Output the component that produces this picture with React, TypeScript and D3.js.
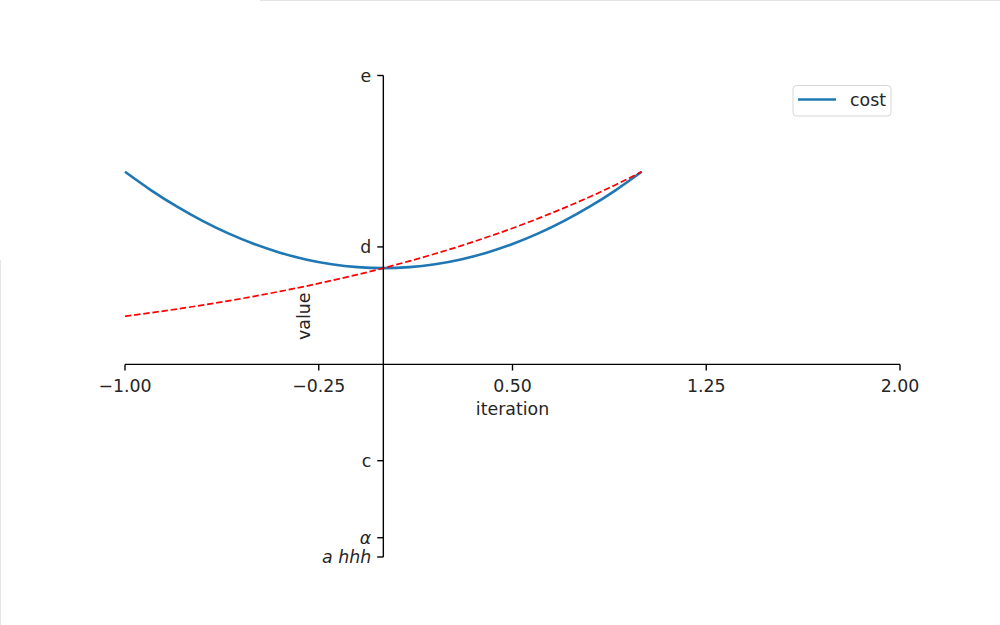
import React from "react";
import * as d3 from "d3";

const xs = [-1, -0.9, -0.8, -0.7, -0.6, -0.5, -0.4, -0.3, -0.2, -0.1, 0, 0.1, 0.2, 0.3, 0.4, 0.5, 0.6, 0.7, 0.8, 0.9, 1];
const costValues = [2.0, 1.81, 1.64, 1.49, 1.36, 1.25, 1.16, 1.09, 1.04, 1.01, 1.0, 1.01, 1.04, 1.09, 1.16, 1.25, 1.36, 1.49, 1.64, 1.81, 2.0];
const dashedValues = [0.5, 0.536, 0.574, 0.616, 0.66, 0.707, 0.758, 0.812, 0.871, 0.933, 1.0, 1.072, 1.149, 1.231, 1.32, 1.414, 1.516, 1.625, 1.741, 1.866, 2.0];
const xTicks = [-1, -0.25, 0.5, 1.25, 2];
const yTickValues = [-2, -1.8, -1, 1.22, 3];
const yTickLabels = ["a hhh", "α", "c", "d", "e"];
const yTickItalic = [true, true, false, false, false];

const FONT = "'DejaVu Sans', sans-serif";
const FS = 17.36;

export default function App() {
  const x = d3.scaleLinear().domain([-1, 2]).range([125, 900]);
  const y = d3.scaleLinear().domain([-2, 3]).range([557, 75.5]);
  const x0 = x(0);
  const y0 = y(0);
  const line = d3
    .line<number>()
    .x((_, i) => x(xs[i]))
    .y((d) => y(d))
    .curve(d3.curveNatural);
  const tick = 6.08;
  const sw = 1.39;
  const fmt = (v: number) => d3.format(".2f")(v).replace("-", "\u2212");

  return (
    <svg
      width={1000}
      height={625}
      style={{ position: "absolute", left: 0, top: 0, background: "#fff" }}
      fontFamily={FONT}
    >
      <rect x={0} y={0} width={1000} height={625} fill="#fff" />
      <line x1={260} x2={1000} y1={0.5} y2={0.5} stroke="#e4e4e4" strokeWidth={1} />
      <line x1={0.5} x2={0.5} y1={260} y2={625} stroke="#e4e4e4" strokeWidth={1} />

      {/* curves */}
      <path d={line(costValues) || ""} fill="none" stroke="#1f77b4" strokeWidth={2.6} strokeLinecap="butt" />
      <path
        d={line(dashedValues) || ""}
        fill="none"
        stroke="red"
        strokeWidth={1.74}
        strokeDasharray="6.43,2.78"
      />

      {/* spines */}
      <line x1={x(-1)} x2={x(2)} y1={y0} y2={y0} stroke="#000" strokeWidth={sw} />
      <line x1={x0} x2={x0} y1={y(-2)} y2={y(3)} stroke="#000" strokeWidth={sw} />

      {/* x ticks */}
      {xTicks.map((t) => (
        <g key={"x" + t}>
          <line x1={x(t)} x2={x(t)} y1={y0} y2={y0 + tick} stroke="#000" strokeWidth={sw} />
          <text x={x(t)} y={391.5} textAnchor="middle" fontSize={FS} fill="#262626">
            {fmt(t)}
          </text>
        </g>
      ))}

      {/* y ticks */}
      {yTickValues.map((t, i) => (
        <g key={"y" + i}>
          <line x1={x0 - tick} x2={x0} y1={y(t)} y2={y(t)} stroke="#000" strokeWidth={sw} />
          <text
            x={x0 - 2 * tick}
            y={y(t)}
            dy="0.36em"
            textAnchor="end"
            fontSize={FS}
            fontStyle={yTickItalic[i] ? "italic" : "normal"}
            fill="#262626"
          >
            {yTickLabels[i]}
          </text>
        </g>
      ))}

      {/* axis labels */}
      <text x={x(0.5)} y={415} textAnchor="middle" fontSize={FS} fill="#262626">
        iteration
      </text>
      <text
        transform={`translate(309.5, ${(y(-2) + y(3)) / 2}) rotate(-90)`}
        textAnchor="middle"
        fontSize={FS}
        fill="#262626"
      >
        value
      </text>

      {/* legend */}
      <rect x={793} y={85.5} width={98} height={30.5} rx={3.5} ry={3.5} fill="#fff" fillOpacity={0.8} stroke="#d6d6d6" strokeWidth={1} />
      <line x1={798} x2={836} y1={99.5} y2={99.5} stroke="#1f77b4" strokeWidth={2.6} />
      <text x={850} y={106} fontSize={FS} fill="#262626">
        cost
      </text>
    </svg>
  );
}
